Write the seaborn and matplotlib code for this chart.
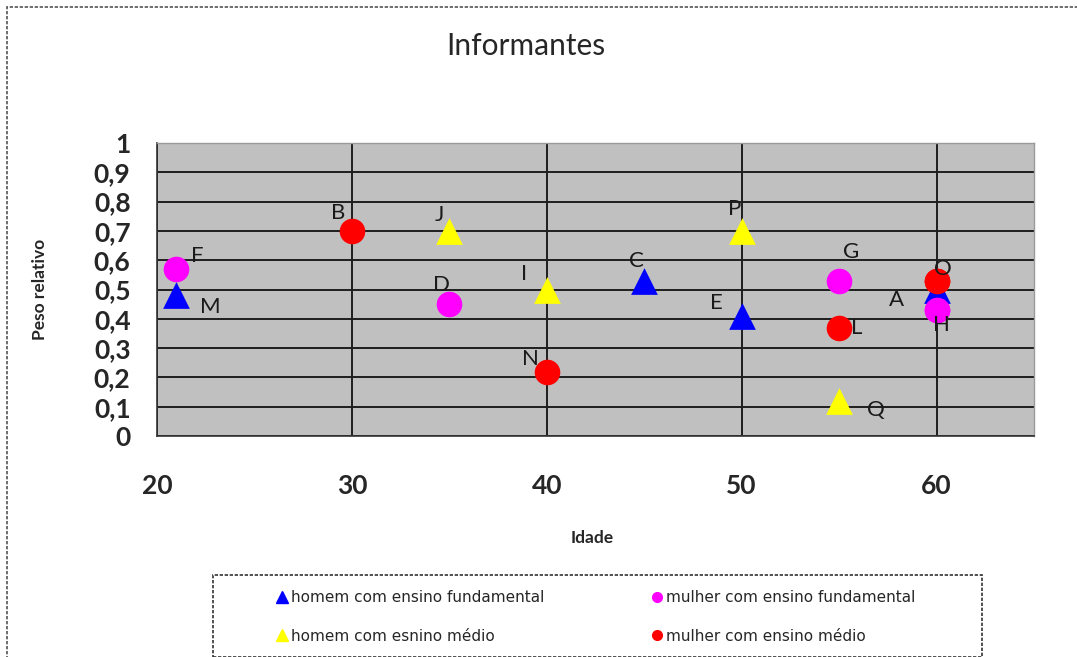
import matplotlib
matplotlib.use("Agg")
import matplotlib.pyplot as plt
from matplotlib.lines import Line2D
from matplotlib.patches import Rectangle
import seaborn as sns
import pandas as pd

# Informants: label, age, relative weight and group
labels = ["A", "B", "C", "D", "E", "F", "G", "H", "I", "J", "L", "M", "N", "O", "P", "Q"]
idade = [60, 30, 45, 35, 50, 21, 55, 60, 40, 35, 55, 21, 40, 60, 50, 55]
peso = [0.50, 0.70, 0.53, 0.45, 0.41, 0.57, 0.53, 0.43, 0.50, 0.70, 0.37, 0.48, 0.22, 0.53, 0.70, 0.12]
grupo = ["hf", "mm", "hf", "mf", "hf", "mf", "mf", "mf", "hm", "hm", "mm", "hf", "mm", "mm", "hm", "hm"]

group_names = {
    "hf": "homem com ensino fundamental",
    "mf": "mulher com ensino fundamental",
    "hm": "homem com esnino médio",
    "mm": "mulher com ensino médio",
}
group_colors = {"hf": "#0000FF", "mf": "#FF00FF", "hm": "#FFFF00", "mm": "#FF0000"}
group_markers = {"hf": "^", "mf": "o", "hm": "^", "mm": "o"}

# label offsets (pixels) relative to each point
label_offsets = {
    "A": (-40, -10), "B": (-14, 18), "C": (-8, 20), "D": (-8, 19), "E": (-25, 13),
    "F": (21, 13), "G": (12, 29), "H": (5, -15), "I": (-23, 15), "J": (-10, 16),
    "L": (18, 0), "M": (34, -12), "N": (-16, 13), "O": (6, 12), "P": (-7, 22),
    "Q": (37, -9),
}

df = pd.DataFrame({"label": labels, "idade": idade, "peso": peso, "grupo": grupo})

sns.set_style("white")
plt.rcParams["font.family"] = ["Lato", "DejaVu Sans"]

W, H = 1077, 657
fig = plt.figure(figsize=(W / 100, H / 100), dpi=100)
ax = fig.add_axes([157 / W, 1 - 436 / H, (1034 - 157) / W, (436 - 143) / H])
ax.set_facecolor("#C0C0C0")

# draw circles before triangles where they overlap
order = ["mf", "mm", "hm", "hf"]
for g in order:
    sub = df[df["grupo"] == g]
    sns.scatterplot(
        data=sub, x="idade", y="peso", ax=ax, color=group_colors[g],
        marker=group_markers[g], s=370 if group_markers[g] == "^" else 340,
        linewidth=0, legend=False, zorder=3,
    )
# at age 60 the red O and pink H sit over the blue A
for lab, g in [("O", "mm"), ("H", "mf")]:
    sub = df[df["label"] == lab]
    sns.scatterplot(data=sub, x="idade", y="peso", ax=ax, color=group_colors[g],
                    marker="o", s=340, linewidth=0, legend=False, zorder=4)

for lab, x, y in zip(labels, idade, peso):
    dx, dy = label_offsets[lab]
    ax.annotate(lab, (x, y), xytext=(dx, dy), textcoords="offset pixels",
                ha="center", va="center", fontsize=16, color="#1a1a1a", zorder=5)

ax.set_xlim(20, 65)
ax.set_ylim(0, 1)
ax.set_xticks([20, 30, 40, 50, 60])
ax.set_yticks([i / 10 for i in range(11)])
ax.set_yticklabels(["0"] + [f"0,{i}" for i in range(1, 10)] + ["1"])
ax.grid(True, color="#1e1e1e", linewidth=1.4, zorder=1)
ax.set_axisbelow(True)

ax.tick_params(axis="both", direction="out", length=7, width=0.8, color="#333333",
               labelsize=19)
ax.tick_params(axis="y", pad=12)
ax.tick_params(axis="x", pad=20)
for t in ax.get_xticklabels() + ax.get_yticklabels():
    t.set_fontweight("bold")

for side in ["top", "right"]:
    ax.spines[side].set_color("#9a9a9a")
    ax.spines[side].set_linestyle((0, (2, 1)))
    ax.spines[side].set_linewidth(1.0)
for side in ["left", "bottom"]:
    ax.spines[side].set_color("#333333")
    ax.spines[side].set_linewidth(1.2)

ax.set_xlabel("Idade", fontsize=12.5, fontweight="bold")
ax.set_ylabel("Peso relativo", fontsize=12.5, fontweight="bold")
ax.xaxis.set_label_coords((592 - 157) / (1034 - 157), -(530 - 436) / (436 - 143))
ax.yaxis.set_label_coords(-(157 - 48) / (1034 - 157), (436 - 289) / (436 - 143))

fig.text(526 / W, 1 - 46 / H, "Informantes", ha="center", va="center", fontsize=21.5)

# legend with its own frame
handles = [
    Line2D([], [], linestyle="none", marker=group_markers[g], color=group_colors[g],
           markersize=8 if group_markers[g] == "^" else 7, label=group_names[g])
    for g in ["hf", "hm", "mf", "mm"]
]
fig.legend(handles=handles, loc="center left", bbox_to_anchor=(261 / W, 1 - 617 / H),
           ncol=2, frameon=False, handletextpad=0.05, handlelength=1.0,
           columnspacing=6.9, labelspacing=1.55,
           prop={"family": "DejaVu Sans", "size": 11})
fig.patches.append(Rectangle((213 / W, 0.0), (982 - 213) / W, (657 - 575) / H,
                             transform=fig.transFigure, fill=False,
                             edgecolor="#333333", linewidth=1.2,
                             linestyle=(0, (2, 1))))
# outer chart border
fig.patches.append(Rectangle((7 / W, -0.1), 1.2, 1 - 7 / H + 0.1,
                             transform=fig.transFigure, fill=False,
                             edgecolor="#555555", linewidth=1.2,
                             linestyle=(0, (2, 1))))

fig.savefig("out.png", dpi=100)
